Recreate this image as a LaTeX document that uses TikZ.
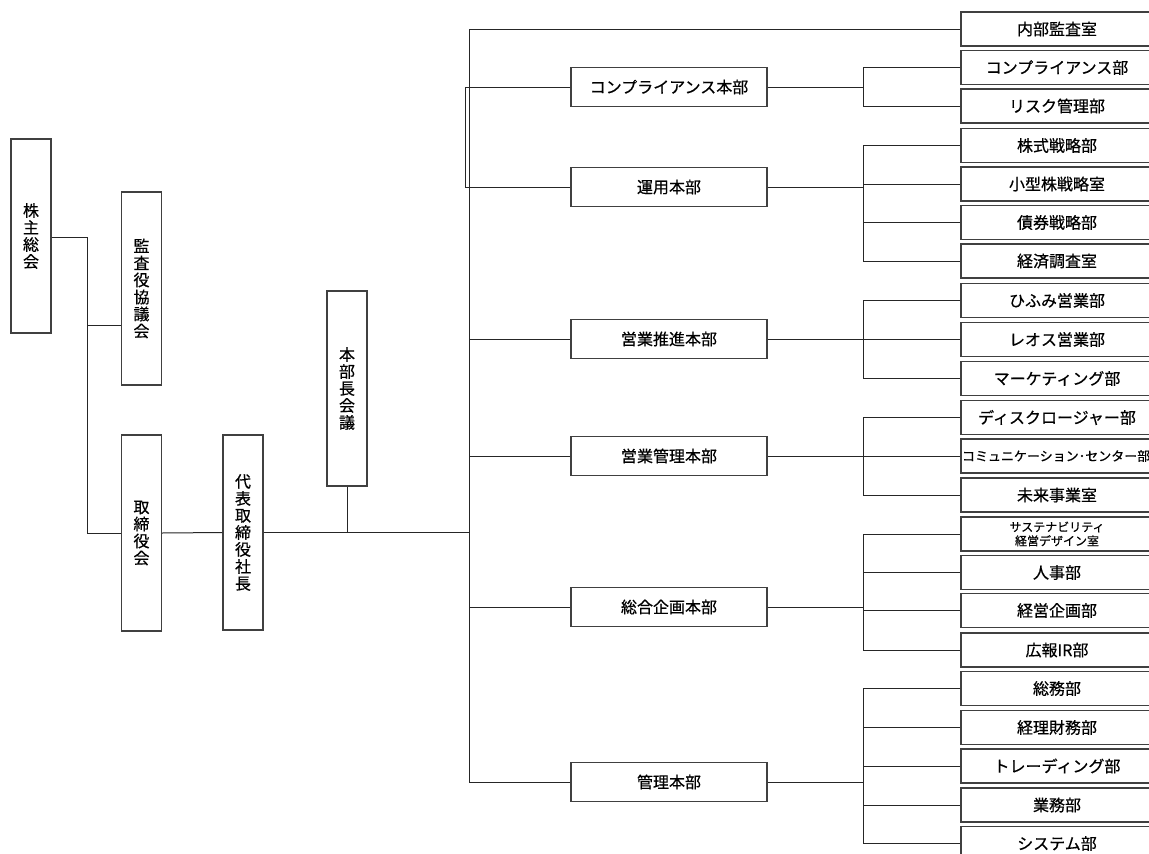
\documentclass[tikz,border=0pt]{standalone}
\usepackage{fontspec}
\setmainfont{Noto Sans CJK JP}[FakeBold=0.5]

\tikzset{
  vbox/.style={draw=black!75, line width=1.1pt, fill=white, minimum width=40pt, minimum height=195pt, inner sep=0pt, align=center, font=\fontsize{16}{17}\selectfont},
  hqbox/.style={draw=black!75, line width=1.1pt, minimum width=196pt, minimum height=39pt, inner sep=0pt, font=\fontsize{16}{17}\selectfont},
  deptbox/.style={draw=black!75, line width=1.1pt, minimum width=192pt, minimum height=34pt, inner sep=0pt, font=\fontsize{16}{17}\selectfont},
  conn/.style={black!85, line width=1pt}
}

\begin{document}
\begin{tikzpicture}[x=1pt,y=-1pt]
		\fill[white] (0,0) rectangle (1149,854);
		\useasboundingbox (0,0) rectangle (1149,854);

		% left side
		\node[vbox, minimum height=194pt] (kabunushi) at (31,236) {株\\主\\総\\会};
		\node[vbox, minimum height=193pt] (kansayaku) at (141.5,288.5) {監\\査\\役\\協\\議\\会};
		\node[vbox, minimum height=196pt] (torishimari) at (141.5,533) {取\\締\\役\\会};
		\node[vbox] (shacho) at (243,532.5) {代\\表\\取\\締\\役\\社\\長};
		\node[vbox] (honbucho) at (347,388.5) {本\\部\\長\\会\\議};

		% headquarters
		\node[hqbox] (comp) at (669,87) {コンプライアンス本部};
		\node[hqbox] (unyo) at (669,187) {運用本部};
		\node[hqbox] (eigyo) at (669,339) {営業推進本部};
		\node[hqbox] (eikan) at (669,456) {営業管理本部};
		\node[hqbox] (sogo) at (669,607) {総合企画本部};
		\node[hqbox] (kanri) at (669,782) {管理本部};

		% departments
		\node[deptbox] (naibu) at (1057,29) {内部監査室};
		\node[deptbox] (compbu) at (1057,67.5) {コンプライアンス部};
		\node[deptbox] (risk) at (1057,106) {リスク管理部};
		\node[deptbox] (kabushiki) at (1057,145.5) {株式戦略部};
		\node[deptbox] (kogata) at (1057,184) {小型株戦略室};
		\node[deptbox] (saiken) at (1057,222.5) {債券戦略部};
		\node[deptbox] (keizai) at (1057,261) {経済調査室};
		\node[deptbox] (hifumi) at (1057,300.5) {ひふみ営業部};
		\node[deptbox] (reos) at (1057,339.5) {レオス営業部};
		\node[deptbox] (market) at (1057,378.5) {マーケティング部};
		\node[deptbox] (disc) at (1057,417.5) {ディスクロージャー部};
		\node[deptbox] (commu) at (1057,456) {\makebox[190pt][l]{\fontsize{13}{15}\selectfont コミュニケーション･センター部}};
		\node[deptbox] (mirai) at (1057,495) {未来事業室};
		\node[deptbox, align=center, font=\fontsize{12}{14}\selectfont] (sustain) at (1057,534) {サステナビリティ\\経営デザイン室};
		\node[deptbox] (jinji) at (1057,572.5) {人事部};
		\node[deptbox] (keiki) at (1057,610.5) {経営企画部};
		\node[deptbox] (koho) at (1057,650) {広報IR部};
		\node[deptbox] (somu) at (1057,688.5) {総務部};
		\node[deptbox] (keiri) at (1057,727.5) {経理財務部};
		\node[deptbox] (trading) at (1057,766) {トレーディング部};
		\node[deptbox] (gyomu) at (1057,805) {業務部};
		\node[deptbox] (system) at (1057,843.5) {システム部};

		\coordinate (lk) at (87,0);
		\coordinate (tr) at (469,0);
		\coordinate (br) at (863,0);

		% left connectors
		\draw[conn] (kabunushi.east |- 0,237) -| (lk |- torishimari.west) -- (torishimari.west);
		\draw[conn] (lk |- 0,325) -- (kansayaku.west |- 0,325);
		\draw[conn] (torishimari.east) -- (shacho.west);
		\draw[conn] (shacho.east) -- (honbucho.south |- shacho.east);
		\draw[conn] (honbucho.south) -- (honbucho.south |- shacho.east);
		\draw[conn, line width=1.6pt] (honbucho.south |- shacho.east) -- (tr |- shacho.east);

		% trunk
		\draw[conn] (naibu.west) -- (tr |- naibu.west) -- (tr |- kanri.west) -- (kanri.west);
		\draw[conn] (comp.west) -- ++(-105,0) |- (unyo.west);
		\draw[conn] (tr |- eigyo.west) -- (eigyo.west);
		\draw[conn] (tr |- eikan.west) -- (eikan.west);
		\draw[conn] (tr |- sogo.west) -- (sogo.west);

		% right brackets
		\draw[conn] (comp.east) -- (br |- comp.east);
		\draw[conn] (compbu.west) -| (br |- risk.west) -- (risk.west);

		\draw[conn] (unyo.east) -- (br |- unyo.east);
		\draw[conn] (kabushiki.west) -| (br |- keizai.west) -- (keizai.west);
		\draw[conn] (br |- kogata.west) -- (kogata.west);
		\draw[conn] (br |- saiken.west) -- (saiken.west);

		\draw[conn] (eigyo.east) -- (br |- eigyo.east);
		\draw[conn] (hifumi.west) -| (br |- market.west) -- (market.west);
		\draw[conn] (br |- reos.west) -- (reos.west);

		\draw[conn] (eikan.east) -- (br |- eikan.east);
		\draw[conn] (disc.west) -| (br |- mirai.west) -- (mirai.west);
		\draw[conn] (br |- commu.west) -- (commu.west);

		\draw[conn] (sogo.east) -- (br |- sogo.east);
		\draw[conn] (sustain.west) -| (br |- koho.west) -- (koho.west);
		\draw[conn] (br |- jinji.west) -- (jinji.west);
		\draw[conn] (br |- keiki.west) -- (keiki.west);

		\draw[conn] (kanri.east) -- (br |- kanri.east);
		\draw[conn] (somu.west) -| (br |- system.west) -- (system.west);
		\draw[conn] (br |- keiri.west) -- (keiri.west);
		\draw[conn] (br |- trading.west) -- (trading.west);
		\draw[conn] (br |- gyomu.west) -- (gyomu.west);
	\end{tikzpicture}
\end{document}
